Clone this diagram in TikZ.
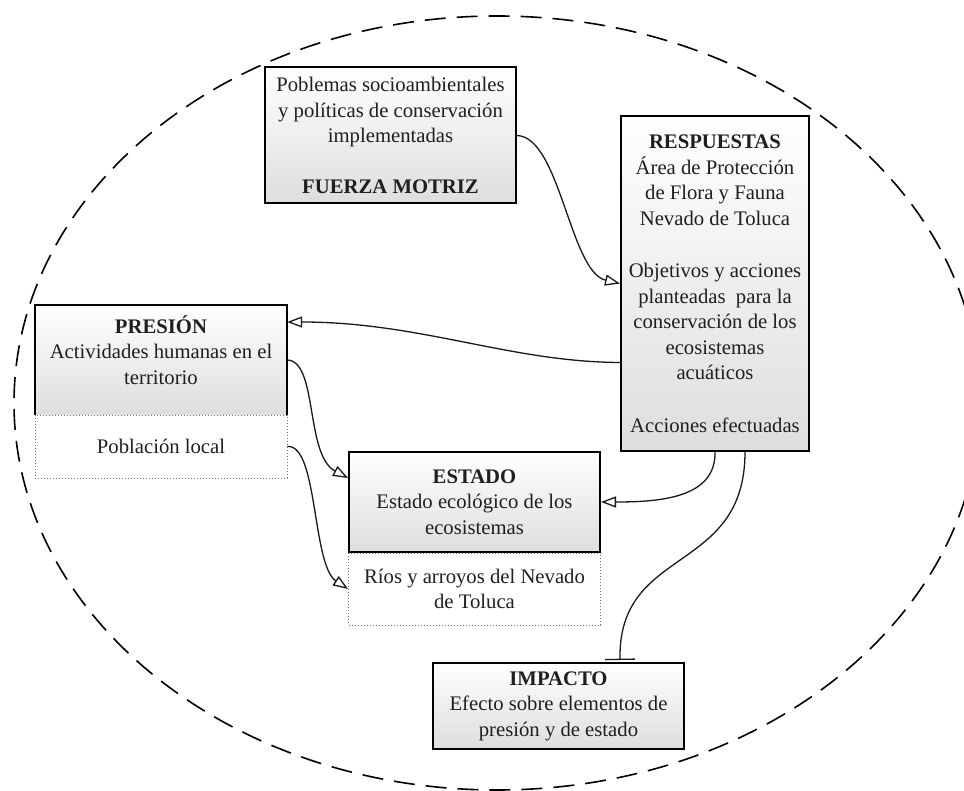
\documentclass[tikz,border=0pt]{standalone}
\usepackage{fontspec}
\setmainfont{Liberation Serif}
\usetikzlibrary{arrows.meta,calc}

\begin{document}
\begin{tikzpicture}[x=1pt,y=-1pt,
  every node/.style={font=\fontsize{20.7}{25.5}\selectfont, text=black!88, align=center, inner sep=0pt},
  solidbox/.style={draw=black, line width=2pt, top color=white, bottom color=black!13},
  shadedpart/.style={top color=white, bottom color=black!13},
  dotbox/.style={draw=black!55, line width=0.9pt, dash pattern=on 1pt off 2pt},
  link/.style={line width=1.3pt, black!90},
  opentip/.style={-{Triangle[open, length=15pt, width=11pt, line width=1.3pt]}},
  bartip/.style={-{Bar[width=30pt, line width=1.3pt]}}]

\useasboundingbox (0,0) rectangle (964,791);

% system boundary
\draw[line width=1.6pt, dash pattern=on 21pt off 11pt] (497,403) ellipse [x radius=483, y radius=387];

% driving force
\node[solidbox, minimum width=251pt, minimum height=136pt] (fm) at (390.5,135.5)
  {Poblemas socioambientales\\ y políticas de conservación\\ implementadas\\[25.5pt] \textbf{FUERZA MOTRIZ}};

% responses
\node[solidbox, minimum width=188pt, minimum height=335pt] (resp) at (715,283.5)
  {\textbf{RESPUESTAS}\\ Área de Protección\\ de Flora y Fauna\\ Nevado de Toluca\\[27pt]
   Objetivos y acciones\\ planteadas\ \ para la\\ conservación de los\\ ecosistemas\\ acuáticos\\[27pt]
   Acciones efectuadas};

% pressure: shaded upper part and dotted lower part
\node[shadedpart, minimum width=252pt, minimum height=110pt] (pres) at (161,360) {};
\node (prestext) at ($(pres.center)+(0,-10)$) {\textbf{PRESIÓN}\\ Actividades humanas en el\\ territorio};
\node[dotbox, minimum width=252pt, minimum height=63pt] (pob) at (161,446.5) {Población local};
\draw[line width=2pt] (pres.south west) -- (pres.north west) -- (pres.north east) -- (pres.south east);

% state
\node[dotbox, minimum width=252pt, minimum height=72pt] (rios) at (474.5,589)
  {Ríos y arroyos del Nevado\\ de Toluca};
\node[solidbox, minimum width=251pt, minimum height=100pt] (est) at (474.5,502)
  {\textbf{ESTADO}\\ Estado ecológico de los\\ ecosistemas};

% impact
\node[solidbox, minimum width=251pt, minimum height=86pt] (imp) at (558.5,706)
  {\textbf{IMPACTO}\\ Efecto sobre elementos de\\ presión y de estado};

% connectors
\draw[link, opentip] (fm.east) .. controls (560,137) and (570,272) .. (resp.west);
\draw[link, opentip] ($(resp.west)+(0,79)$) .. controls (510,362) and (420,322) .. ($(pres.east)+(0,-38)$);
\draw[link, opentip] (pres.east) .. controls (318,361) and (305,455) .. ($(est.west)+(0,-24)$);
\draw[link, opentip] (pob.east) .. controls (318,444) and (312,565) .. (rios.west);
\draw[link, opentip] (resp.south) .. controls (716,498) and (660,502) .. (est.east);
\draw[link, bartip] ($(resp.south)+(30,0)$) .. controls (745,575) and (618,545) .. ($(imp.north)+(61.5,-2)$);

\end{tikzpicture}
\end{document}
